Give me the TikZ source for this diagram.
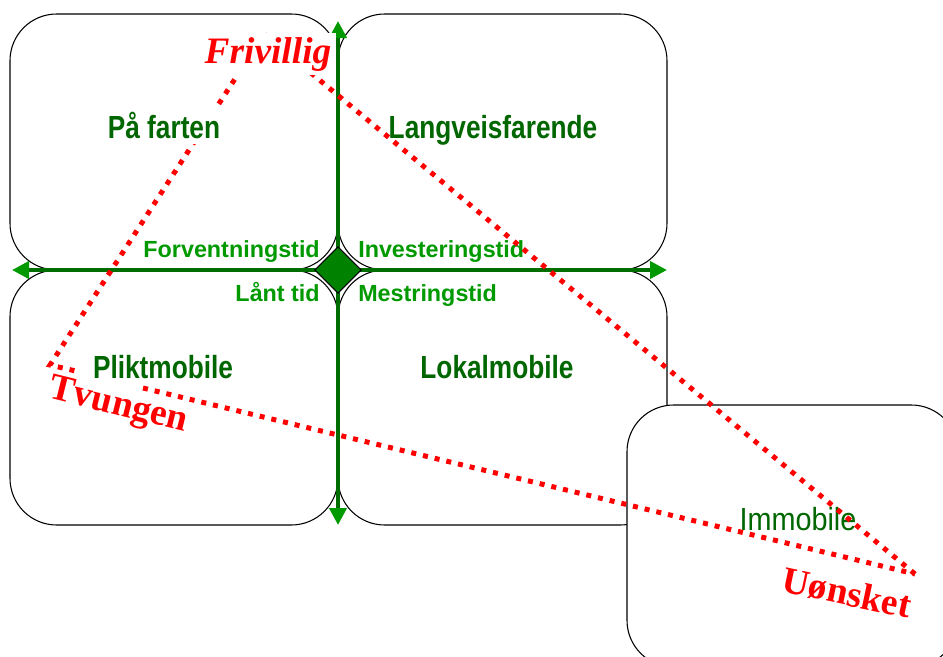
\documentclass[tikz,border=0pt]{standalone}
\usepackage{fontspec}
\setmainfont{Liberation Sans}
\newfontfamily\narrowsans[FakeStretch=0.82]{Liberation Sans Bold}
\newfontfamily\narrowthin[FakeStretch=0.9]{Liberation Sans}
\newfontfamily\serifpole{Liberation Serif}
\usetikzlibrary{arrows.meta,shapes.geometric}
\definecolor{forest}{RGB}{0,102,0}
\definecolor{grass}{RGB}{0,153,0}
\definecolor{moss}{RGB}{0,128,0}
\definecolor{signal}{RGB}{255,0,0}

\tikzset{
  field/.style={draw=black, line width=0.8pt, rounded corners=35pt},
  fieldname/.style={text=forest, anchor=base, inner sep=0pt, font=\narrowsans\fontsize{24}{28}\selectfont},
  timename/.style={text=grass, anchor=base, inner sep=0pt, font=\bfseries\fontsize{17.5}{20}\selectfont},
  axis/.style={moss!85!black, line width=3pt,
    {Triangle[length=12.75pt,width=12.75pt,color=grass]}-{Triangle[length=12.75pt,width=12.75pt,color=grass]}},
  trail/.style={signal, line width=3.75pt, dash pattern=on 3.75pt off 5.25pt},
  pole/.style={text=signal, font=\serifpole\bfseries\fontsize{28}{32}\selectfont}
}

\begin{document}
\begin{tikzpicture}[x=0.75pt, y=-0.75pt]
            \useasboundingbox (0,0) rectangle (943,657);
            \clip (0,0) rectangle (943,657);
            \draw[field]                  ( 10, 14) rectangle (338,270);
            \draw[field]                  (338, 14) rectangle (667,270);
            \draw[field]                  ( 10,270) rectangle (338,525);
            \draw[field]                  (338,270) rectangle (667,525);
            \filldraw[field, fill=white]  (627,405) rectangle (958,667);

            \coordinate (west)  at ( 12,270);
            \coordinate (east)  at (667,270);
            \coordinate (north) at (338, 21);
            \coordinate (south) at (338,525);
            \draw[axis] (west)  -- (east);
            \draw[axis] (north) -- (south);
            \node[diamond, draw=black, fill=moss!90!grass, line width=0.8pt, inner sep=0pt,
                  minimum width=35pt, minimum height=35pt] (hub) at (338,270) {};

            \node[timename, anchor=base east] (forvent)  at (320,257) {Forventningstid};
            \node[timename, anchor=base west] (invest)   at (358,257) {Investeringstid};
            \node[timename, anchor=base east] (laant)    at (320,301) {Lånt tid};
            \node[timename, anchor=base west] (mestring) at (358,301) {Mestringstid};

            \node[fieldname] (langveis) at (493,138) {Langveisfarende};
            \node[fieldname] (plikt)    at (163,378) {Pliktmobile};
            \node[fieldname] (lokal)    at (497,378) {Lokalmobile};
            \node[fieldname, font=\narrowthin\fontsize{24}{28}\selectfont] (immobil) at (798,530) {Immobile};

            \coordinate (peak)   at (264, 34);
            \coordinate (low)    at ( 50,365);
            \coordinate (sink)   at (915,574);
            \coordinate (gapin)  at ( 80,372);
            \coordinate (gapout) at (143,388);
            \draw[trail] (sink) -- (peak) -- (low) -- (gapin);
            \draw[trail] (gapout) -- (sink);

            \node[fieldname, fill=white, inner sep=4pt] (farten) at (164,138) {På farten};
            \node[pole, fill=white, anchor=base, font=\serifpole\bfseries\itshape\fontsize{28}{32}\selectfont]
                 (frivillig) at (268,63) {Frivillig};
            \node[pole, rotate=-14] (tvungen) at (118,407) {Tvungen};
            \node[pole, rotate=-12] (uonsket) at (847,593) {Uønsket};
        \end{tikzpicture}
\end{document}
